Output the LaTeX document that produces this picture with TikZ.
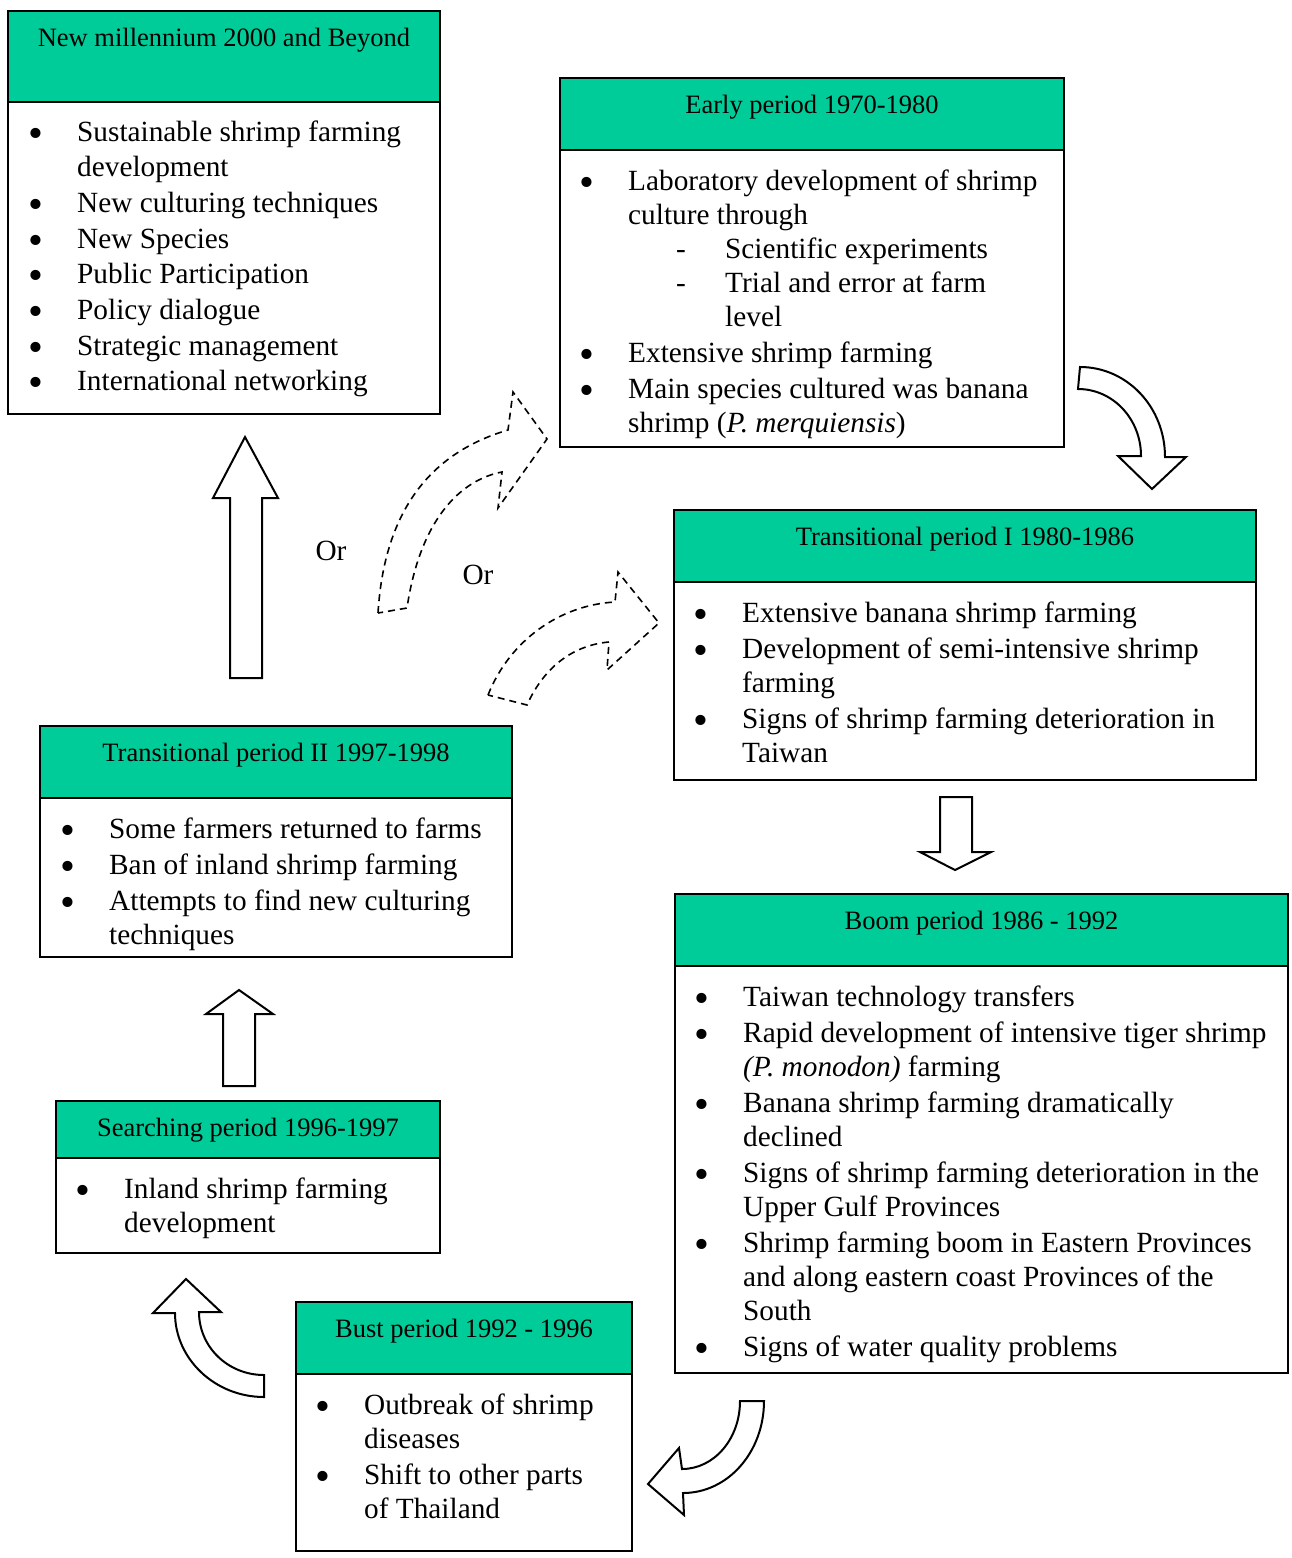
\documentclass[tikz,border=0pt]{standalone}
\usepackage{fontspec}
\setmainfont{Liberation Serif}
\usepackage{graphicx}
\definecolor{hdr}{HTML}{00CC99}
\newcommand\bul{\makebox[30pt]{\smash{\raisebox{-6pt}{\scalebox{1.45}{•}}}}}
\newcommand\dsh[1]{\makebox[97pt][l]{\hspace{48pt}-}#1}
\tikzset{
  boxframe/.style={draw=black, line width=2pt, fill=white, anchor=north west, inner sep=0pt, outer sep=0pt},
  hdrband/.style={draw=black, line width=2pt, fill=hdr, anchor=north west, inner sep=0pt, outer sep=0pt},
  htext/.style={font=\fontsize{26.5}{32}\selectfont, anchor=base, inner sep=0pt},
  btext/.style={font=\fontsize{29.3}{34}\selectfont, anchor=base west, inner sep=0pt, align=left},
  blockarrow/.style={draw=black, line width=2pt, fill=white, line join=miter},
  dasharrow/.style={draw=black, line width=1.6pt, dash pattern=on 7pt off 5pt},
}
\newcommand\pbox[8]{%
  \node[boxframe, minimum width={(#4-#2)*1pt}, minimum height={(#5-#3)*1pt}] (#1) at (#2,#3) {};
  \node[hdrband, minimum width={(#4-#2)*1pt}, minimum height={(#6-#3)*1pt}] (#1h) at (#2,#3) {};
  \node[htext] (#1t) at ({(#2+#4)/2},#8) {#7};
}
\begin{document}
\begin{tikzpicture}[x=1pt, y=-1pt]
\useasboundingbox[fill=white] (0,0) rectangle (1291,1558);

% ---- boxes ----
\pbox{b1}{8}{11}{440}{414}{102}{New millennium 2000 and Beyond}{46}
\pbox{b2}{560}{78}{1064}{447}{150}{Early period 1970-1980}{113}
\pbox{b3}{674}{510}{1256}{780}{582}{Transitional period I 1980-1986}{545}
\pbox{b4}{40}{726}{512}{957}{798}{Transitional period II 1997-1998}{761}
\pbox{b5}{675}{894}{1288}{1373}{966}{Boom period 1986 - 1992}{929}
\pbox{b6}{56}{1101}{440}{1253}{1158}{Searching period 1996-1997}{1136}
\pbox{b7}{296}{1302}{632}{1551}{1374}{Bust period 1992 - 1996}{1337}

% ---- bodies ----
\node[btext, font=\fontsize{29.3}{35.7}\selectfont] (b1body) at (21,141) {\begin{tabular}[t]{@{}c@{\hspace{26pt}}l@{}}
\bul & Sustainable shrimp farming\\
     & development\\
\bul & New culturing techniques\\
\bul & New Species\\
\bul & Public Participation\\
\bul & Policy dialogue\\
\bul & Strategic management\\
\bul & International networking
\end{tabular}};

\node[btext] (b2body) at (572,190) {\begin{tabular}[t]{@{}c@{\hspace{26pt}}l@{}}
\bul & Laboratory development of shrimp\\
     & culture through\\
     & \dsh{Scientific experiments}\\
     & \dsh{Trial and error at farm}\\
     & \hspace{97pt}level\\[2pt]
\bul & Extensive shrimp farming\\[2pt]
\bul & Main species cultured was banana\\
     & shrimp (\textit{P. merquiensis})
\end{tabular}};

\node[btext] (b3body) at (686,622) {\begin{tabular}[t]{@{}c@{\hspace{26pt}}l@{}}
\bul & Extensive banana shrimp farming\\[2pt]
\bul & Development of semi-intensive shrimp\\
     & farming\\[2pt]
\bul & Signs of shrimp farming deterioration in\\
     & Taiwan
\end{tabular}};

\node[btext] (b4body) at (53,838) {\begin{tabular}[t]{@{}c@{\hspace{26pt}}l@{}}
\bul & Some farmers returned to farms\\[2pt]
\bul & Ban of inland shrimp farming\\[2pt]
\bul & Attempts to find new culturing\\
     & techniques
\end{tabular}};

\node[btext] (b5body) at (687,1006) {\begin{tabular}[t]{@{}c@{\hspace{26pt}}l@{}}
\bul & Taiwan technology transfers\\[2pt]
\bul & Rapid development of intensive tiger shrimp\\
     & \textit{(P. monodon)} farming\\[2pt]
\bul & Banana shrimp farming dramatically\\
     & declined\\[2pt]
\bul & Signs of shrimp farming deterioration in the\\
     & Upper Gulf Provinces\\[2pt]
\bul & Shrimp farming boom in Eastern Provinces\\
     & and along eastern coast Provinces of the\\
     & South\\[2pt]
\bul & Signs of water quality problems
\end{tabular}};

\node[btext] (b6body) at (68,1198) {\begin{tabular}[t]{@{}c@{\hspace{26pt}}l@{}}
\bul & Inland shrimp farming\\
     & development
\end{tabular}};

\node[btext] (b7body) at (308,1414) {\begin{tabular}[t]{@{}c@{\hspace{26pt}}l@{}}
\bul & Outbreak of shrimp\\
     & diseases\\[2pt]
\bul & Shift to other parts\\
     & of Thailand
\end{tabular}};

% ---- Or labels ----
\node[btext, anchor=base] (or1) at (331,560) {Or};
\node[btext, anchor=base] (or2) at (478,584) {Or};

% ---- block arrows ----
% early -> transitional I (curved)
\draw[blockarrow] (1080,367) .. controls (1127,367) and (1165,407) .. (1165,457)
  -- (1186,457) -- (1152,489) -- (1118,456) -- (1141,456)
  .. controls (1141,419) and (1113,389) .. (1078,389) -- cycle;
% transitional I -> boom
\draw[blockarrow] (940,797) -- (972,797) -- (972,852) -- (991,852) -- (955,870) -- (920,852) -- (940,852) -- cycle;
% boom -> bust (curved)
\draw[blockarrow] (740,1401) -- (764,1401) .. controls (764,1452) and (728,1493) .. (683,1493)
  -- (684,1515) -- (648,1484) -- (679,1448) -- (682,1469)
  .. controls (714,1469) and (740,1439) .. (740,1401) -- cycle;
% bust -> searching (curved)
\draw[blockarrow] (264,1397) .. controls (215,1397) and (175,1359) .. (175,1313)
  -- (153,1313) -- (186,1279) -- (221,1312) -- (199,1312)
  .. controls (199,1347) and (228,1375) .. (264,1375) -- cycle;
% searching -> transitional II
\draw[blockarrow] (223,1086) -- (223,1014) -- (206,1014) -- (239,990) -- (273,1014) -- (255,1014) -- (255,1086) -- cycle;
% transitional II -> new millennium
\draw[blockarrow] (230,678) -- (230,498) -- (213,498) -- (245,437) -- (278,498) -- (262,498) -- (262,678) -- cycle;

% ---- dashed arrows ----
\draw[dasharrow] (378,613) .. controls (385,500) and (440,450) .. (508,430)
  -- (513,392) -- (547,439) -- (498,508) -- (502,472)
  .. controls (460,480) and (420,520) .. (407,608) -- cycle;
\draw[dasharrow] (488,695) .. controls (510,640) and (560,605) .. (615,602)
  -- (618,572) -- (659,623) -- (607,670) -- (609,642)
  .. controls (575,645) and (545,665) .. (527,705) -- cycle;
\end{tikzpicture}
\end{document}
